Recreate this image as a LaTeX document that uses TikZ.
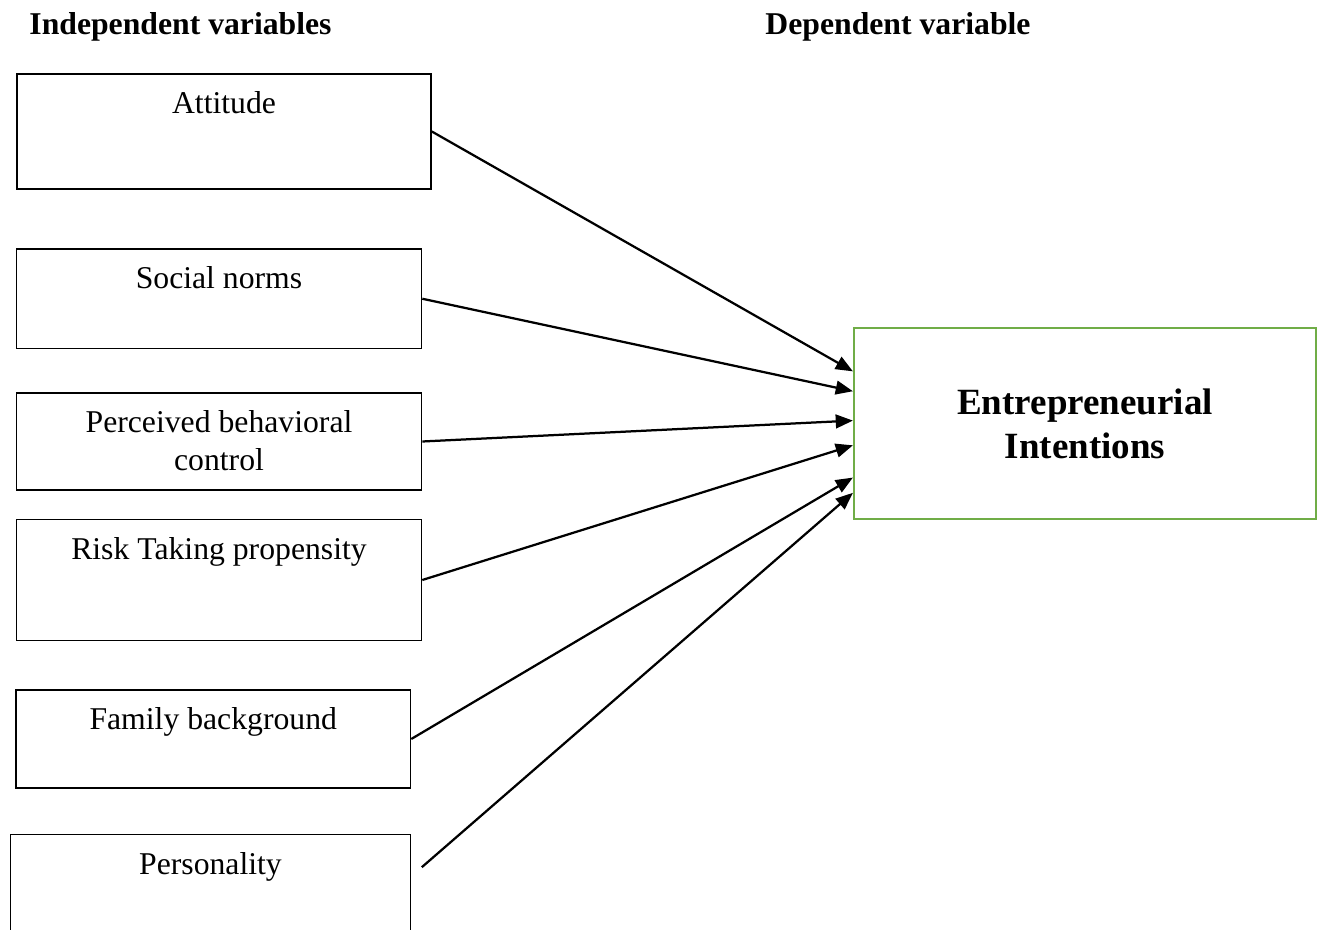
\documentclass[tikz,border=0pt]{standalone}
\usepackage{fontspec}
\setmainfont{Liberation Serif}
\usetikzlibrary{arrows.meta,positioning,calc}
\definecolor{boxgreen}{HTML}{70AD47}

\begin{document}
\begin{tikzpicture}[x=0.3785pt,y=-0.3785pt,
    varbox/.style={draw,line width=0.6pt,inner sep=0pt,align=center,font=\fontsize{12}{14.4}\selectfont,text height=15.1pt,text depth=#1},
    depbox/.style={draw=boxgreen,line width=0.8pt,minimum width=174.9pt,minimum height=72.3pt,align=center,font=\fontsize{14}{16.7}\selectfont\bfseries},
    head/.style={anchor=base,font=\fontsize{12}{14.4}\selectfont\bfseries},
    arr/.style={-{Triangle[length=6.5pt,width=5.2pt]},line width=0.85pt}]
      \useasboundingbox (0,0) rectangle (1317,930); \clip (0,0) rectangle (1317,930);
      \node[head] (hind) at (180.5,35) {Independent variables}; \node[head] (hdep) at (898,35) {Dependent variable};
      \node[varbox=28.4pt,minimum width=156.7pt] (att) at (224,131.5) {Attitude};
      \node[varbox=22.5pt,minimum width=153.3pt] (soc) at (219,298.75) {Social norms};
      \node[varbox=7.2pt,text height=29.5pt,minimum width=153.3pt] (pbc) at (219,441.5) {Perceived behavioral\\control};
      \node[varbox=30.7pt,minimum width=153.3pt] (risk) at (219,580) {Risk Taking propensity};
      \node[varbox=22pt,minimum width=149.3pt] (fam) at (213.25,739) {Family background};
      \node[varbox=34.1pt,minimum width=151.4pt] (pers) at (210.5,899.5) {Personality};
      \node[depbox] (ei) at (1085,423.5) {Entrepreneurial\\Intentions};
      \coordinate (pgap) at ($(pers.north east)+(10.5,33.5)$);
      \draw[arr] (att.east)--($(ei.north west)!0.23!(ei.south west)$); \draw[arr] (soc.east)--($(ei.north west)!0.333!(ei.south west)$);
      \draw[arr] (pbc.east)--($(ei.north west)!0.485!(ei.south west)$); \draw[arr] (risk.east)--($(ei.north west)!0.613!(ei.south west)$);
      \draw[arr] (fam.east)--($(ei.north west)!0.78!(ei.south west)$); \draw[arr] (pgap)--($(ei.north west)!0.859!(ei.south west)$);
    \end{tikzpicture}
\end{document}
